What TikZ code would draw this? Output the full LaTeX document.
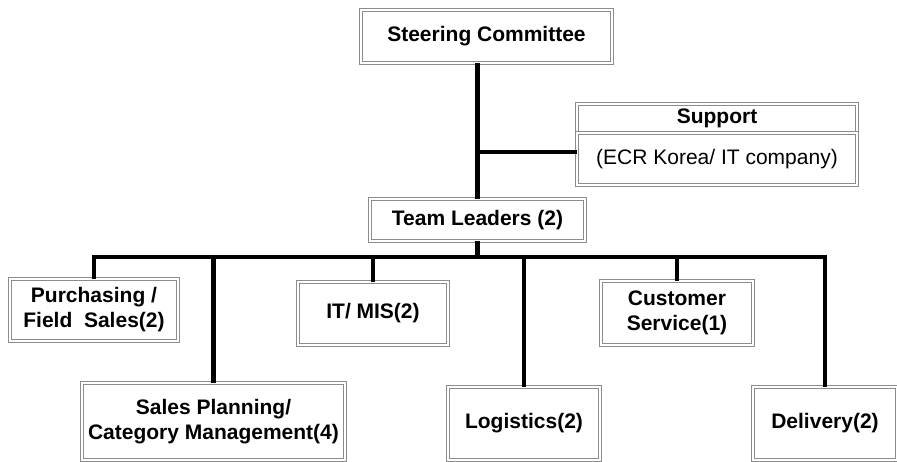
\documentclass[tikz,border=0pt]{standalone}
\usepackage{fontspec}
\setmainfont{Liberation Sans}
\usetikzlibrary{positioning}

\begin{document}
\begin{tikzpicture}[x=1pt,y=-1pt,
  box/.style={draw=black!45, double, double distance=1.6pt, line width=0.8pt, align=center,
    inner sep=0pt, font=\fontsize{21}{25}\selectfont\bfseries},
  link/.style={line width=4.5pt, line join=miter}]
\useasboundingbox (0,0) rectangle (897,461);

% Top of the chart
\node[box, minimum width=251, minimum height=53] (steer) at (486.5,36.5) {Steering Committee};
\node[box, minimum width=280, minimum height=29] (support) at (717,118.5) {Support};
\node[box, minimum width=280, minimum height=52, font=\fontsize{21}{25}\selectfont] (ecr) at (717,159) {(ECR Korea/ IT company)};
\node[box, minimum width=215, minimum height=42] (lead) at (477.5,220) {Team Leaders (2)};

% Teams
\node[box, minimum width=168, minimum height=62] (purch) at (94,310) {Purchasing /\\Field\ \ Sales(2)};
\node[box, minimum width=150, minimum height=63] (itmis) at (373,313.5) {IT/ MIS(2)};
\node[box, minimum width=152, minimum height=64] (cust) at (677,313) {Customer\\Service(1)};
\node[box, minimum width=263, minimum height=77] (sales) at (213.5,421.5) {Sales Planning/\\Category Management(4)};
\node[box, minimum width=152, minimum height=73] (logis) at (524,423.5) {Logistics(2)};
\node[box, minimum width=144, minimum height=73] (deliv) at (825,423.5) {Delivery(2)};

% Connectors
\coordinate (bus) at (0,257);
\draw[link] (steer.south -| lead.north) -- (lead.north);
\draw[link] (ecr.west |- 0,152) -- (lead.north |- 0,152);
\draw[link] (lead.south) -- (lead.south |- bus);
\draw[link] (purch.north) -- (purch.north |- bus) -- (deliv.north |- bus) -- (deliv.north);
\foreach \t in {sales,itmis,logis,cust}
  \draw[link] (\t.north |- bus) -- (\t.north);
\end{tikzpicture}
\end{document}
